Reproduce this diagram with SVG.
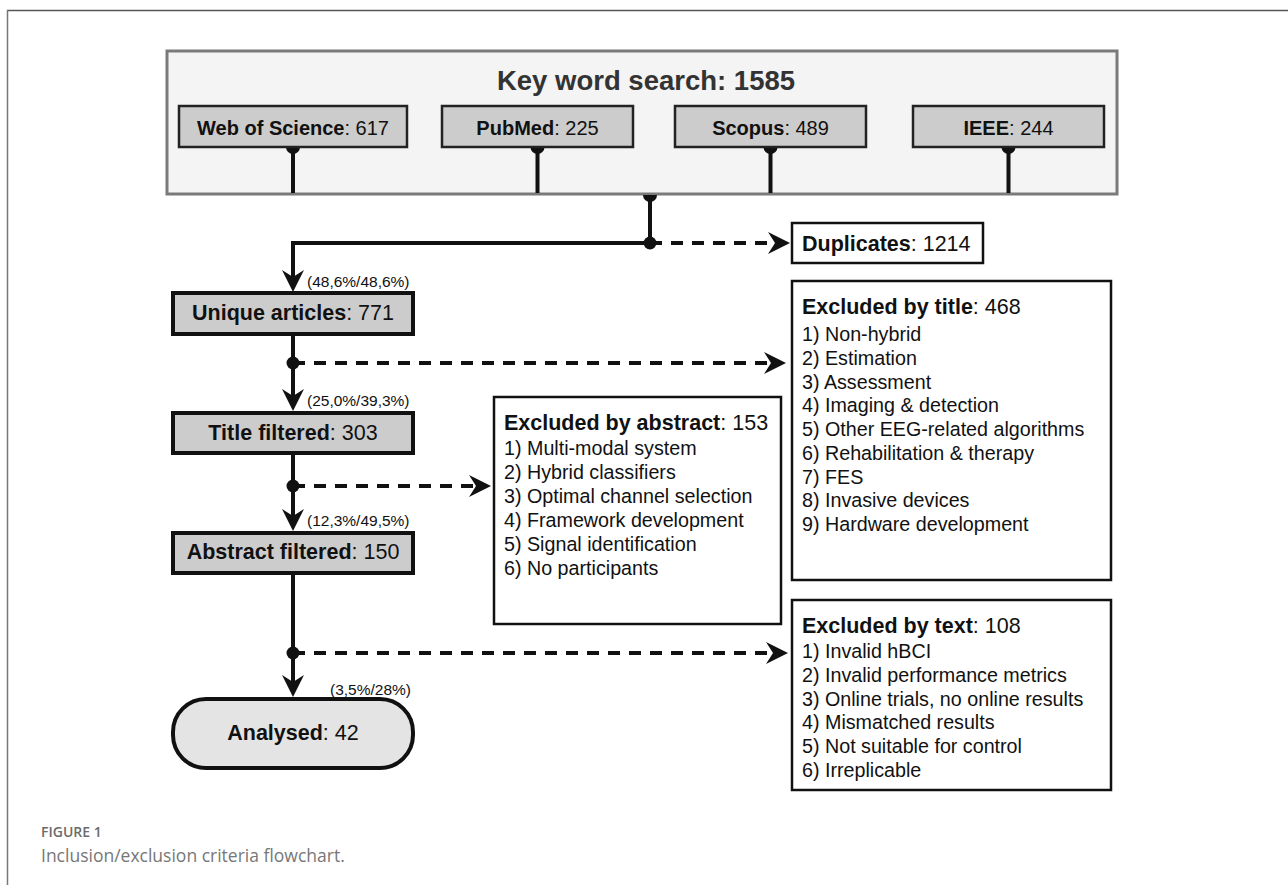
<svg xmlns="http://www.w3.org/2000/svg" width="1288" height="885" viewBox="0 0 1288 885">
<style>
  text { font-family: "Liberation Sans", Arial, sans-serif; fill: #111; }
  .b { font-weight: bold; }
  .main { fill: #f4f4f4; stroke: #7a7a7a; stroke-width: 3; }
  .src { fill: #cccccc; stroke: #222; stroke-width: 2.5; }
  .flow { fill: #cccccc; stroke: #111; stroke-width: 4; }
  .end { fill: #e4e4e4; stroke: #111; stroke-width: 4; }
  .exc { fill: #fff; stroke: #111; stroke-width: 2.5; }
  .srcl { font-size: 20px; }
  .flowl { font-size: 21.5px; }
  .head { font-size: 21.5px; }
  .item { font-size: 19.7px; }
  .pct { font-size: 15.5px; }
  .ln { fill: none; stroke: #111; stroke-width: 4; }
  .dash { fill: none; stroke: #111; stroke-width: 4; stroke-dasharray: 12 9; }
  .dot { fill: #111; }
  .cap1 { font-family: "Open Sans", sans-serif; font-size: 14px; font-weight: 600; fill: #6b6b6b; }
  .cap2 { font-family: "Open Sans", sans-serif; font-size: 17.5px; fill: #777; }
</style>
<defs>
  <marker id="arr" markerUnits="userSpaceOnUse" viewBox="-16 -12 26 24" refX="0" refY="0" markerWidth="26" markerHeight="24" orient="auto">
    <path d="M8,0 L-14,-11 L-7,0 L-14,11 Z" fill="#111"/>
  </marker>
</defs>

<g id="frame">
  <line x1="7" y1="10.5" x2="1288" y2="10.5" stroke="#555" stroke-width="1.5"/>
  <line x1="7.5" y1="10" x2="7.5" y2="885" stroke="#777" stroke-width="1.5"/>
</g>

<g id="keyword-search">
  <rect class="main" x="167" y="51" width="950" height="143"/>
  <text class="b" x="646" y="90" text-anchor="middle" font-size="27.5" style="fill:#333">Key word search: 1585</text>
</g>

<g id="connectors">
  <!-- source stems -->
  <line class="ln" x1="293" y1="147" x2="293" y2="193"/>
  <line class="ln" x1="537.5" y1="147" x2="537.5" y2="193"/>
  <line class="ln" x1="770.5" y1="147" x2="770.5" y2="193"/>
  <line class="ln" x1="1008.5" y1="147" x2="1008.5" y2="193"/>
  <path class="dot" d="M286,147 A7,7 0 0 0 300,147 Z"/>
  <path class="dot" d="M530.5,147 A7,7 0 0 0 544.5,147 Z"/>
  <path class="dot" d="M763.5,147 A7,7 0 0 0 777.5,147 Z"/>
  <path class="dot" d="M1001.5,147 A7,7 0 0 0 1015.5,147 Z"/>
  <!-- main stem -->
  <path class="dot" d="M643,195 A7,7 0 0 0 657,195 Z"/>
  <path class="ln" d="M650,195 V243 H293 V284" marker-end="url(#arr)"/>
  <circle class="dot" cx="650" cy="243" r="6.5"/>
  <line class="dash" x1="650" y1="243" x2="782" y2="243" marker-end="url(#arr)"/>
  <!-- unique -> title -->
  <line class="ln" x1="293" y1="334" x2="293" y2="403" marker-end="url(#arr)"/>
  <circle class="dot" cx="293" cy="363" r="6.5"/>
  <line class="dash" x1="293" y1="363" x2="778" y2="363" marker-end="url(#arr)"/>
  <!-- title -> abstract -->
  <line class="ln" x1="293" y1="453" x2="293" y2="523" marker-end="url(#arr)"/>
  <circle class="dot" cx="293" cy="486" r="6.5"/>
  <line class="dash" x1="293" y1="486" x2="483" y2="486" marker-end="url(#arr)"/>
  <!-- abstract -> analysed -->
  <line class="ln" x1="293" y1="573" x2="293" y2="689" marker-end="url(#arr)"/>
  <circle class="dot" cx="293" cy="653" r="6.5"/>
  <line class="dash" x1="293" y1="653" x2="780" y2="653" marker-end="url(#arr)"/>
</g>

<g id="wos">
  <rect class="src" x="179" y="106" width="228" height="41"/>
  <text class="srcl" x="293" y="135" text-anchor="middle"><tspan class="b">Web of Science</tspan>: 617</text>
</g>
<g id="pubmed">
  <rect class="src" x="442" y="106" width="191" height="41"/>
  <text class="srcl" x="537.5" y="135" text-anchor="middle"><tspan class="b">PubMed</tspan>: 225</text>
</g>
<g id="scopus">
  <rect class="src" x="675" y="106" width="191" height="41"/>
  <text class="srcl" x="770.5" y="135" text-anchor="middle"><tspan class="b">Scopus</tspan>: 489</text>
</g>
<g id="ieee">
  <rect class="src" x="913" y="106" width="191" height="41"/>
  <text class="srcl" x="1008.5" y="135" text-anchor="middle"><tspan class="b">IEEE</tspan>: 244</text>
</g>

<g id="duplicates">
  <rect class="exc" x="792" y="223" width="191" height="40"/>
  <text class="head" x="802" y="251"><tspan class="b">Duplicates</tspan>: 1214</text>
</g>

<g id="unique">
  <rect class="flow" x="173" y="293" width="240" height="41"/>
  <text class="flowl" x="293" y="320" text-anchor="middle"><tspan class="b">Unique articles</tspan>: 771</text>
  <text class="pct" x="307" y="287">(48,6%/48,6%)</text>
</g>
<g id="title-filtered">
  <rect class="flow" x="173" y="413" width="240" height="40"/>
  <text class="flowl" x="293" y="440" text-anchor="middle"><tspan class="b">Title filtered</tspan>: 303</text>
  <text class="pct" x="307" y="406">(25,0%/39,3%)</text>
</g>
<g id="abstract-filtered">
  <rect class="flow" x="173" y="533" width="240" height="40"/>
  <text class="flowl" x="293" y="559" text-anchor="middle"><tspan class="b">Abstract filtered</tspan>: 150</text>
  <text class="pct" x="307" y="526">(12,3%/49,5%)</text>
</g>
<g id="analysed">
  <rect class="end" x="173" y="699" width="240" height="69" rx="33" ry="33"/>
  <text class="flowl" x="293" y="740" text-anchor="middle"><tspan class="b">Analysed</tspan>: 42</text>
  <text class="pct" x="411" y="695" text-anchor="end">(3,5%/28%)</text>
</g>

<g id="excluded-title">
  <rect class="exc" x="792" y="281" width="319" height="299"/>
  <text class="head" x="802" y="314"><tspan class="b">Excluded by title</tspan>: 468</text>
  <text class="item" x="802" y="341">1) Non-hybrid</text>
  <text class="item" x="802" y="364.8">2) Estimation</text>
  <text class="item" x="802" y="388.5">3) Assessment</text>
  <text class="item" x="802" y="412.3">4) Imaging &amp; detection</text>
  <text class="item" x="802" y="436">5) Other EEG-related algorithms</text>
  <text class="item" x="802" y="459.8">6) Rehabilitation &amp; therapy</text>
  <text class="item" x="802" y="483.5">7) FES</text>
  <text class="item" x="802" y="507.3">8) Invasive devices</text>
  <text class="item" x="802" y="531">9) Hardware development</text>
</g>

<g id="excluded-abstract">
  <rect class="exc" x="494" y="397" width="287" height="227"/>
  <text class="head" x="504" y="430"><tspan class="b">Excluded by abstract</tspan>: 153</text>
  <text class="item" x="504" y="455">1) Multi-modal system</text>
  <text class="item" x="504" y="479">2) Hybrid classifiers</text>
  <text class="item" x="504" y="503">3) Optimal channel selection</text>
  <text class="item" x="504" y="527">4) Framework development</text>
  <text class="item" x="504" y="551">5) Signal identification</text>
  <text class="item" x="504" y="575">6) No participants</text>
</g>

<g id="excluded-text">
  <rect class="exc" x="792" y="600" width="319" height="190"/>
  <text class="head" x="802" y="633"><tspan class="b">Excluded by text</tspan>: 108</text>
  <text class="item" x="802" y="658">1) Invalid hBCI</text>
  <text class="item" x="802" y="681.8">2) Invalid performance metrics</text>
  <text class="item" x="802" y="705.5">3) Online trials, no online results</text>
  <text class="item" x="802" y="729.3">4) Mismatched results</text>
  <text class="item" x="802" y="753">5) Not suitable for control</text>
  <text class="item" x="802" y="776.8">6) Irreplicable</text>
</g>

<g id="caption">
  <text class="cap1" x="41" y="837">FIGURE 1</text>
  <text class="cap2" x="41" y="862">Inclusion/exclusion criteria flowchart.</text>
</g>
</svg>
